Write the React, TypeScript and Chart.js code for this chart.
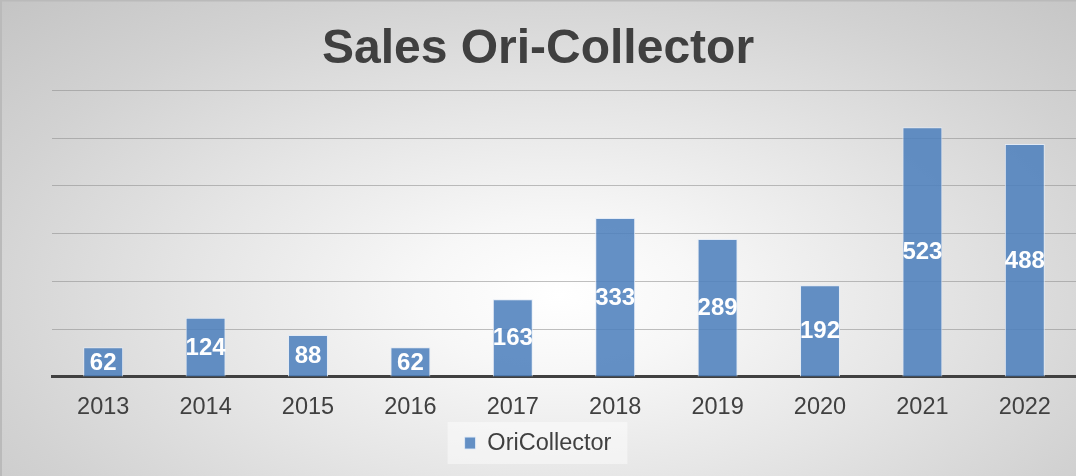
import React, { useEffect, useRef } from "react";
import { Chart, registerables } from "chart.js";

Chart.register(...registerables);

const categories = ["2013", "2014", "2015", "2016", "2017", "2018", "2019", "2020", "2021", "2022"];
const salesValues = [62, 124, 88, 62, 163, 333, 289, 192, 523, 488];
const seriesName = "OriCollector";
const chartTitle = "Sales Ori-Collector";
const yMin = 0;
const yMax = 600;
const yStep = 100;

const FONT = "'Liberation Sans', Arial, sans-serif";

const backgroundPlugin = {
  id: "bgAndLegendBox",
  beforeDraw(chart: any) {
    const ctx = chart.ctx;
    const w = chart.width;
    const h = chart.height;
    ctx.save();
    ctx.fillStyle = "#bababa";
    ctx.fillRect(0, 0, w, 1.5);
    ctx.fillRect(0, 0, 2, h);
    const lg = chart.legend;
    if (lg && lg.legendHitBoxes && lg.legendHitBoxes.length) {
      const hb = lg.legendHitBoxes[0];
      const cy = hb.top + hb.height / 2;
      ctx.fillStyle = "rgba(255,255,255,0.45)";
      ctx.fillRect(hb.left - 17, cy - 21, hb.width + 33, 42);
    }
    ctx.restore();
  },
};

const valueLabelPlugin = {
  id: "valueLabels",
  afterDatasetsDraw(chart: any) {
    const ctx = chart.ctx;
    const meta = chart.getDatasetMeta(0);
    const data = chart.data.datasets[0].data as number[];
    ctx.save();
    ctx.font = `bold 24px ${FONT}`;
    ctx.fillStyle = "#ffffff";
    ctx.textAlign = "center";
    ctx.textBaseline = "middle";
    meta.data.forEach((bar: any, i: number) => {
      const { x, y, base } = bar.getProps(["x", "y", "base"], true);
      ctx.fillText(String(data[i]), x, (y + base) / 2 + 1);
    });
    ctx.restore();
  },
};

export default function App() {
  const canvasRef = useRef<HTMLCanvasElement | null>(null);

  useEffect(() => {
    document.body.style.margin = "0";
    const canvas = canvasRef.current;
    if (!canvas) return;
    Chart.defaults.font.family = FONT;
    const chart = new Chart(canvas, {
      type: "bar",
      data: {
        labels: categories,
        datasets: [
          {
            label: seriesName,
            data: salesValues,
            backgroundColor: "rgba(79,129,189,0.88)",
            borderColor: "rgba(225,234,246,0.95)",
            borderWidth: 1,
            barPercentage: 1,
            categoryPercentage: 0.39,
          },
        ],
      },
      options: {
        responsive: false,
        animation: false,
        maintainAspectRatio: false,
        layout: { padding: { left: 0, right: 0, top: 0, bottom: 11.2 } },
        plugins: {
          title: {
            display: true,
            text: chartTitle,
            color: "#404040",
            font: { size: 48, weight: "bold", family: FONT },
            padding: { top: 21, bottom: 11.9 },
          },
          legend: {
            display: true,
            position: "bottom",
            labels: {
              color: "#404040",
              font: { size: 23.5, family: FONT },
              boxWidth: 11,
              boxHeight: 12,
              padding: 10.75,
            },
          },
          tooltip: { enabled: false },
        },
        scales: {
          x: {
            grid: { display: false, drawTicks: false },
            border: { display: true, color: "#404040", width: 3 },
            ticks: {
              color: "#404040",
              font: { size: 23.5, family: FONT },
              padding: 16.9,
              maxRotation: 0,
            },
            afterFit: (scale: any) => {
              scale.height = 43.6;
            },
          },
          y: {
            min: yMin,
            max: yMax,
            ticks: { display: false, stepSize: yStep },
            grid: { color: "rgba(140,140,140,0.55)", lineWidth: 1, drawTicks: false },
            border: { display: false },
            afterFit: (scale: any) => {
              scale.width = 52;
            },
          },
        },
      },
      plugins: [backgroundPlugin, valueLabelPlugin],
    });
    return () => chart.destroy();
  }, []);

  return (
    <div
      style={{
        width: 1076,
        height: 476,
        background:
          "radial-gradient(ellipse farthest-corner at 52% 62%, #ffffff 0%, #f7f7f7 18%, #e6e6e6 45%, #d2d2d2 75%, #c4c4c4 100%)",
      }}
    >
      <canvas ref={canvasRef} width={1076} height={476} style={{ display: "block" }} />
    </div>
  );
}
